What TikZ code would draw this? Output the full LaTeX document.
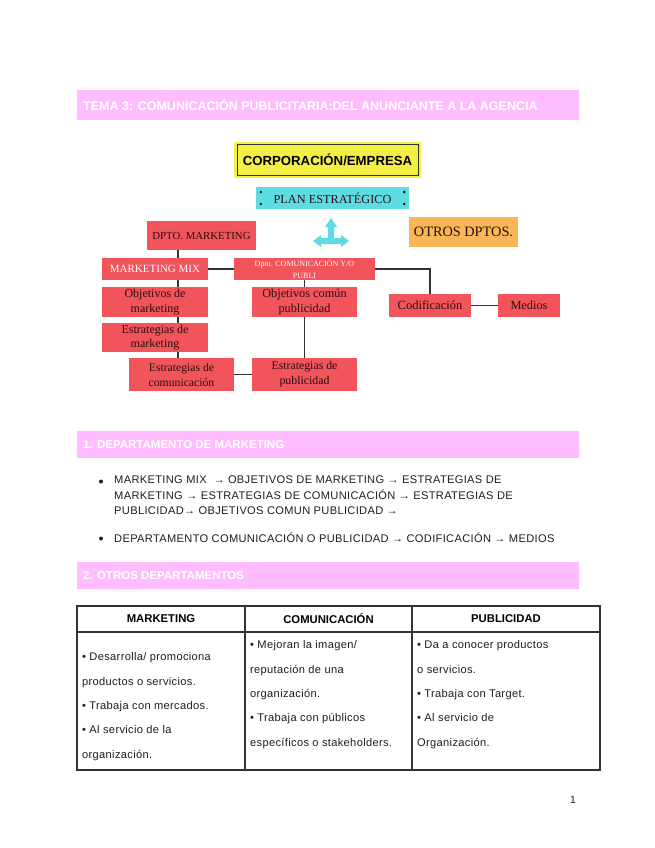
\documentclass[tikz,border=0pt]{standalone}
\usepackage{fontspec}
\newfontfamily\docfont{Liberation Sans}[LetterSpace=3]
\newfontfamily\headfont{Liberation Sans}
\newfontfamily\diagfont{Liberation Serif}
\definecolor{Pink}{HTML}{FFBCFE}
\definecolor{Yellow}{HTML}{F3EF45}
\definecolor{Cyan}{HTML}{5DDCE2}
\definecolor{Red}{HTML}{F1545B}
\definecolor{Orange}{HTML}{F8B656}
\definecolor{Ink}{HTML}{2A0E10}
\definecolor{Line}{HTML}{333333}
\definecolor{Body}{HTML}{1E1E1E}
\tikzset{box/.style={rectangle,inner sep=0pt,align=center,text=Ink},redbox/.style={box,fill=Red,font=\diagfont\fontsize{12}{14.5}\selectfont},bartext/.style={anchor=west,inner sep=0pt,text=white,font=\headfont\bfseries\fontsize{11.5}{13}\selectfont},link/.style={draw=Line,line width=1.5pt},bodytext/.style={anchor=north west,align=left,inner sep=0pt,text=Body,font=\docfont\fontsize{11.1}{15.5}\selectfont},cell/.style={anchor=north west,align=left,inner sep=0pt,text=Body,font=\docfont\fontsize{11.1}{24.4}\selectfont},cellhead/.style={inner sep=0pt,text=black,font=\headfont\bfseries\fontsize{11.3}{13}\selectfont}}

\begin{document}
\begin{tikzpicture}[x=1pt,y=-1pt]
  \fill[white] (0,0) rectangle (655,848);
  \useasboundingbox (0,0) rectangle (655,848);
  \fill[Pink] (77,90) rectangle (579,120);
  \node[bartext,font=\headfont\bfseries\fontsize{12.5}{14}\selectfont] (title) at (83,105) {TEMA 3: COMUNICACIÓN PUBLICITARIA:DEL ANUNCIANTE A LA AGENCIA};
  % organigrama
  \node[fill=Yellow,minimum width=187pt,minimum height=36pt] (corpbg) at (327.5,160) {};
  \node[box,text=black,draw=Line,line width=.9pt,minimum width=181pt,minimum height=31pt,font=\headfont\bfseries\fontsize{13.2}{15}\selectfont] (corp) at (corpbg) {CORPORACIÓN/EMPRESA};
  \node[box,fill=Cyan,minimum width=153pt,minimum height=22pt,font=\diagfont\fontsize{12.3}{14}\selectfont] (plan) at (332.5,198) {PLAN ESTRATÉGICO};
  \foreach \dy in {-6,6}{
    \fill (plan.west) ++(5,\dy) circle (1.3pt);
    \fill (plan.east) ++(-5,\dy) circle (1.3pt);
  }
  \fill[Cyan] (331,218) -- (337,227) -- (334,227) -- (334,238) -- (341,238) -- (341,235) -- (349,241) -- (341,247) -- (341,244) -- (321,244) -- (321,247) -- (313,241) -- (321,235) -- (321,238) -- (328,238) -- (328,227) -- (325,227) -- cycle;
  \node[redbox,minimum width=109pt,minimum height=29pt,font=\diagfont\fontsize{10.8}{13}\selectfont] (mkt) at (201.5,235.5) {DPTO. MARKETING};
  \node[box,fill=Orange,minimum width=109pt,minimum height=30pt,font=\diagfont\fontsize{14.3}{16}\selectfont] (otros) at (463.5,232) {OTROS DPTOS.};
  \node[redbox,text=white,minimum width=106pt,minimum height=22pt,font=\diagfont\fontsize{11}{13}\selectfont] (mix) at (155,269) {MARKETING MIX};
  \node[redbox,text=white,minimum width=141pt,minimum height=22pt,font=\diagfont\fontsize{8}{12}\selectfont] (comu) at (304.5,269) {Dpto. COMUNICACIÓN Y/O\\PUBLI};
  \node[redbox,minimum width=106pt,minimum height=30pt] (objmkt) at (155,302) {Objetivos de\\marketing};
  \node[redbox,minimum width=106pt,minimum height=29pt] (estmkt) at (155,337.5) {Estrategias de\\marketing};
  \node[redbox,minimum width=105pt,minimum height=30pt,font=\diagfont\fontsize{12.3}{14.5}\selectfont] (objpub) at (304.5,302) {Objetivos común\\publicidad};
  \node[redbox,minimum width=105pt,minimum height=33pt,font=\diagfont\fontsize{11.7}{15}\selectfont] (estcom) at (181.5,374.5) {Estrategias de\\comunicación};
  \node[redbox,minimum width=105pt,minimum height=33pt,font=\diagfont\fontsize{11.8}{15}\selectfont] (estpub) at (304.5,374.5) {Estrategias de\\publicidad};
  \node[redbox,minimum width=82pt,minimum height=23pt,font=\diagfont\fontsize{12.5}{14}\selectfont] (codif) at (430,305.5) {Codificación};
  \node[redbox,minimum width=62pt,minimum height=23pt,font=\diagfont\fontsize{12.3}{14}\selectfont] (medios) at (529,305.5) {Medios};
  \coordinate (spine) at (178,250);
  \draw[link] (mkt.south -| spine) -- (mix.north -| spine);
  \draw[link] (mix.south -| spine) -- (objmkt.north -| spine);
  \draw[link] (objmkt.south -| spine) -- (estmkt.north -| spine);
  \draw[link] (estmkt.south -| spine) -- (estcom.north -| spine);
  \draw[link] (mix) -- (comu);
  \draw[link] (comu.east) -| (codif.north);
  \draw[link] (comu) -- (objpub);
  \draw[link] (objpub) -- (estpub);
  \draw[link] (estcom) -- (estpub);
  \draw[link] (codif) -- (medios);
  % 1. departamento de marketing
  \fill[Pink] (77,431) rectangle (579,458);
  \node[bartext] (sec1) at (83,445) {1. DEPARTAMENTO DE MARKETING};
  \fill[Body] (101,481.5) circle (2pt);
  \node[bodytext] (list1) at (114,476) {MARKETING MIX \ → OBJETIVOS DE MARKETING → ESTRATEGIAS DE\\MARKETING → ESTRATEGIAS DE COMUNICACIÓN → ESTRATEGIAS DE\\PUBLICIDAD→ OBJETIVOS COMUN PUBLICIDAD →};
  \fill[Body] (101,538.5) circle (2pt);
  \node[bodytext] (list2) at (114,533) {DEPARTAMENTO COMUNICACIÓN O PUBLICIDAD → CODIFICACIÓN → MEDIOS};
  % 2. otros departamentos
  \fill[Pink] (77,562) rectangle (579,589);
  \node[bartext] (sec2) at (83,575.5) {2. OTROS DEPARTAMENTOS};
  \draw[Line,line width=1.2pt] (77,606) rectangle (600,770);
  \draw[Line,line width=1.2pt] (77,632) -- (600,632);
  \draw[Line,line width=1.2pt] (245,606) -- (245,770);
  \draw[Line,line width=1.2pt] (412,606) -- (412,770);
  \node[cellhead] (hmkt) at (161,619) {MARKETING};
  \node[cellhead] (hcom) at (328.5,619) {COMUNICACIÓN};
  \node[cellhead] (hpub) at (506,619) {PUBLICIDAD};
  \node[cell] (cmkt) at (82,652.5) {\textbullet{} Desarrolla/ promociona\\productos o servicios.\\\textbullet{} Trabaja con mercados.\\\textbullet{} Al servicio de la\\organización.};
  \node[cell] (ccom) at (250,640.5) {\textbullet{} Mejoran la imagen/\\reputación de una\\organización.\\\textbullet{} Trabaja con públicos\\específicos o stakeholders.};
  \node[cell] (cpub) at (417,640.5) {\textbullet{} Da a conocer productos\\o servicios.\\\textbullet{} Trabaja con Target.\\\textbullet{} Al servicio de\\Organización.};
  \node[inner sep=0pt,text=Body,font=\headfont\fontsize{10.5}{12}\selectfont] (pagenum) at (573,800) {1};
\end{tikzpicture}
\end{document}
